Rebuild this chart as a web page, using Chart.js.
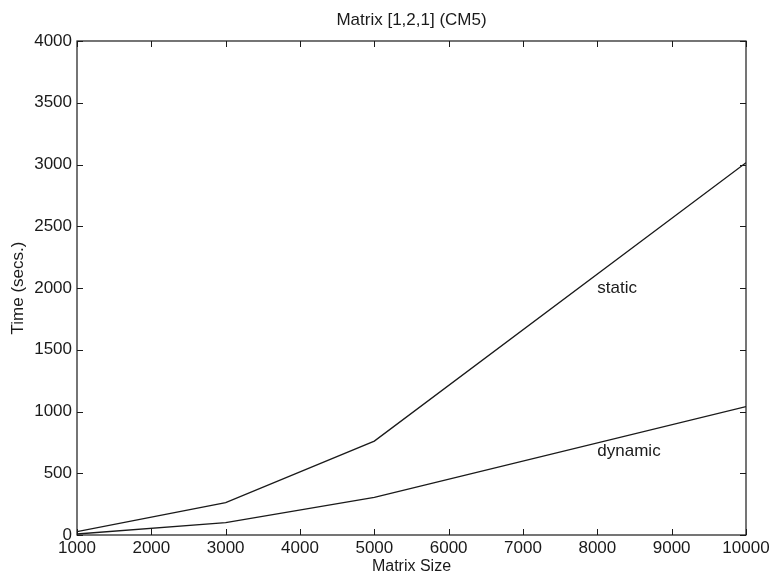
<!DOCTYPE html>
<html>
<head>
<meta charset="utf-8">
<script src="https://cdn.jsdelivr.net/npm/chart.js@4/dist/chart.umd.min.js"></script>
<style>
  html, body { margin: 0; padding: 0; background: #fff; }
  #wrap { width: 774px; height: 576px; }
</style>
</head>
<body>
<div id="wrap"><canvas id="grafica"></canvas></div>
<script>
const matrixSizes = [1000, 3000, 5000, 10000];
const staticTimes = [27, 262, 760, 3015];
const dynamicTimes = [8, 100, 305, 1040];
const xTicks = [1000, 2000, 3000, 4000, 5000, 6000, 7000, 8000, 9000, 10000];
const yTicks = [0, 500, 1000, 1500, 2000, 2500, 3000, 3500, 4000];
const lineNames = ["static", "dynamic"];
const labelAtX = [8000, 8000];
const labelAtY = [2000, 680];
const titulo = "Matrix [1,2,1] (CM5)";

const tinta = "#1a1a1a";
const fuente = "Liberation Sans, Arial, sans-serif";

function puntos(ys) {
  return matrixSizes.map((x, i) => ({ x: x, y: ys[i] }));
}

// frame, inward ticks, title and the line labels
const marco = {
  id: "marco",
  afterDraw(chart) {
    const ctx = chart.ctx;
    const a = chart.chartArea;
    const sx = chart.scales.x;
    const sy = chart.scales.y;
    ctx.save();
    ctx.strokeStyle = tinta;
    ctx.lineWidth = 1.2;
    ctx.strokeRect(a.left, a.top, a.right - a.left, a.bottom - a.top);
    ctx.lineWidth = 1;
    const t = 6;
    ctx.beginPath();
    xTicks.forEach(v => {
      const px = Math.round(sx.getPixelForValue(v)) + 0.5;
      ctx.moveTo(px, a.bottom); ctx.lineTo(px, a.bottom - t);
      ctx.moveTo(px, a.top); ctx.lineTo(px, a.top + t);
    });
    yTicks.forEach(v => {
      const py = Math.round(sy.getPixelForValue(v)) + 0.5;
      ctx.moveTo(a.left, py); ctx.lineTo(a.left + t, py);
      ctx.moveTo(a.right, py); ctx.lineTo(a.right - t, py);
    });
    ctx.stroke();

    ctx.fillStyle = tinta;
    ctx.font = "17px " + fuente;
    ctx.textAlign = "center";
    ctx.textBaseline = "middle";
    ctx.fillText(titulo, (a.left + a.right) / 2, 20);

    ctx.textAlign = "left";
    lineNames.forEach((n, i) => {
      ctx.fillText(n, sx.getPixelForValue(labelAtX[i]), sy.getPixelForValue(labelAtY[i]));
    });
    ctx.restore();
  }
};

new Chart(document.getElementById("grafica"), {
  type: "scatter",
  data: {
    datasets: [
      { label: lineNames[0], data: puntos(staticTimes), showLine: true, borderColor: tinta, borderWidth: 1.3, pointRadius: 0, fill: false },
      { label: lineNames[1], data: puntos(dynamicTimes), showLine: true, borderColor: tinta, borderWidth: 1.3, pointRadius: 0, fill: false }
    ]
  },
  options: {
    responsive: true,
    maintainAspectRatio: false,
    animation: false,
    layout: { padding: { top: 41, right: 28, bottom: 0, left: 0 } },
    plugins: {
      legend: { display: false },
      tooltip: { enabled: false }
    },
    scales: {
      x: {
        type: "linear",
        min: 1000,
        max: 10000,
        afterBuildTicks: s => { s.ticks = xTicks.map(v => ({ value: v })); },
        afterFit: s => { s.height = 41; },
        grid: { display: false, drawTicks: false },
        border: { display: false },
        ticks: { color: tinta, font: { size: 17, family: fuente }, padding: 3, maxRotation: 0, autoSkip: false, callback: v => String(v) },
        title: { display: true, text: "Matrix Size", color: tinta, font: { size: 16, family: fuente }, padding: { top: 0, bottom: 0 } }
      },
      y: {
        type: "linear",
        min: 0,
        max: 4000,
        afterBuildTicks: s => { s.ticks = yTicks.map(v => ({ value: v })); },
        afterFit: s => { s.width = 77; },
        grid: { display: false, drawTicks: false },
        border: { display: false },
        ticks: { color: tinta, font: { size: 17, family: fuente }, padding: 5, autoSkip: false, callback: v => String(v) },
        title: { display: true, text: "Time (secs.)", color: tinta, font: { size: 17, family: fuente }, padding: { top: 8, bottom: 0 } }
      }
    }
  },
  plugins: [marco]
});
</script>
</body>
</html>
